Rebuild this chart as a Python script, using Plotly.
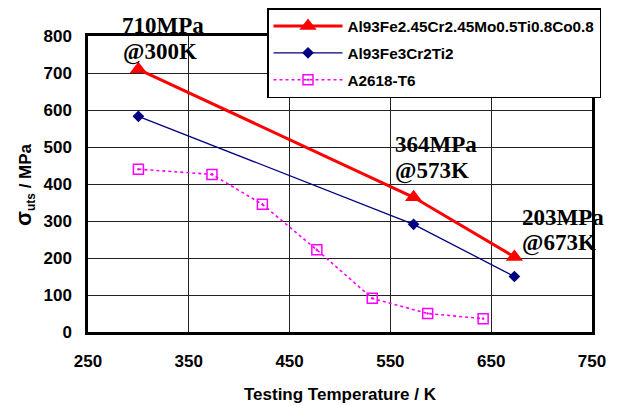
import plotly.graph_objects as go

# Data
temp_a = [300, 573, 673]
uts_a = [710, 364, 203]
name_a = "Al93Fe2.45Cr2.45Mo0.5Ti0.8Co0.8"

temp_b = [300, 573, 673]
uts_b = [583, 291, 150]
name_b = "Al93Fe3Cr2Ti2"

temp_c = [300, 373, 423, 477, 532, 587, 642]
uts_c = [440, 426, 345, 222, 91, 50, 36]
name_c = "A2618-T6"

x_ticks = [250, 350, 450, 550, 650, 750]
y_ticks = [0, 100, 200, 300, 400, 500, 600, 700, 800]

callout_lines = ["710MPa", "@300K", "364MPa", "@573K", "203MPa", "@673K"]

SANS = "Arial, Liberation Sans, sans-serif"
SERIF = "Times New Roman, Liberation Serif, serif"

fig = go.Figure()
fig.add_trace(go.Scatter(
    x=temp_a, y=uts_a, name=name_a, mode="lines+markers", legendgroup="a",
    line=dict(color="#FF0000", width=3),
    marker=dict(symbol="triangle-up", size=15, color="#FF0000"),
))
fig.add_trace(go.Scatter(
    x=temp_b, y=uts_b, name=name_b, mode="lines+markers", legendgroup="b",
    line=dict(color="#000080", width=1.3),
    marker=dict(symbol="diamond", size=9, color="#000080"),
))
fig.add_trace(go.Scatter(
    x=temp_c, y=uts_c, name=name_c, mode="lines+markers", legendgroup="c",
    line=dict(color="#FF00FF", width=1.6, dash="dot"),
    marker=dict(symbol="square-open-dot", size=10, color="#FF00FF", line=dict(width=1.5)),
))

# callout text placement (paper coordinates)
callout_pos = [(0.1488, 1.037), (0.1429, 0.9476), (0.6905, 0.6351),
               (0.6825, 0.5439), (0.9425, 0.3885), (0.9345, 0.3007)]
for txt, (px, py) in zip(callout_lines, callout_pos):
    fig.add_annotation(x=px, y=py, xref="paper", yref="paper", text=txt, showarrow=False,
                       xanchor="center", yanchor="middle",
                       font=dict(family=SERIF, size=23, color="black", weight="bold"))

# y-axis title as rotated text
fig.add_annotation(x=-0.127, y=0.5, xref="paper", yref="paper", showarrow=False,
                   text="<span style='font-size:22px'>σ</span><sub>uts</sub> / MPa", textangle=-90,
                   xanchor="center", yanchor="middle",
                   font=dict(family=SANS, size=17, color="black", weight="bold"))

axis_common = dict(
    showline=True, linecolor="black", linewidth=2.5, mirror=True,
    showgrid=True, gridcolor="#222222", gridwidth=1,
    zeroline=False, ticks="", tickfont=dict(family=SANS, size=17, color="black", weight="bold"),
)
fig.update_xaxes(range=[250, 750], tickvals=x_ticks, ticklabelstandoff=12,
                 title=dict(text="Testing Temperature / K", font=dict(family=SANS, size=17, color="black", weight="bold"), standoff=18),
                 **axis_common)
fig.update_yaxes(range=[0, 800], tickvals=y_ticks, ticklabelstandoff=10, **axis_common)

fig.update_layout(
    width=619, height=406,
    margin=dict(l=88, r=27, t=36, b=74, autoexpand=False),
    paper_bgcolor="white", plot_bgcolor="white",
    showlegend=True,
    legend=dict(x=267/619, y=1 - 8/406, xanchor="left", yanchor="top", xref="container", yref="container",
                bgcolor="white", bordercolor="black", borderwidth=1.5,
                font=dict(family=SANS, size=15.3, color="black", weight="bold"),
                tracegroupgap=4, itemwidth=69, traceorder="grouped"),
)
fig.write_html("out.html", config={"displayModeBar": False},
               post_script="document.body.style.margin='0';")
